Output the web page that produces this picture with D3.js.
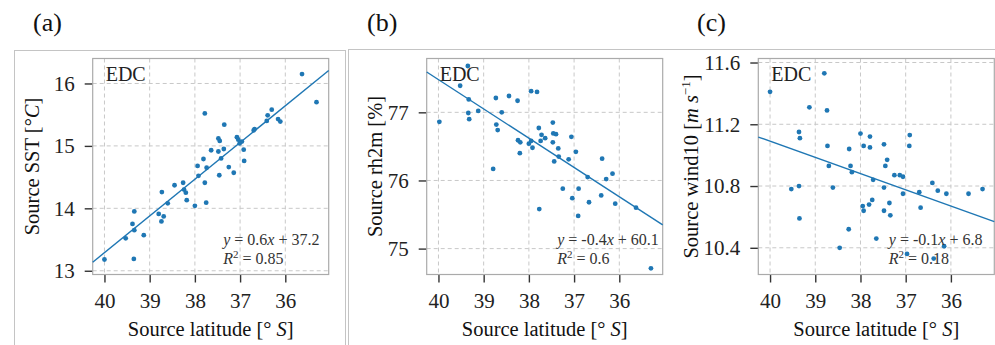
<!DOCTYPE html>
<html>
<head>
<meta charset="utf-8">
<script src="https://cdn.jsdelivr.net/npm/d3@7"></script>
<style>
  body { margin: 0; background: #fff; }
  svg { display: block; }
  svg text { font-family: "Liberation Serif", "Times New Roman", "DejaVu Serif", serif; }
</style>
</head>
<body>
<div id="chart"></div>
<script>
// Source latitude (deg S) and values
const latA = [40.0, 39.53, 39.34, 39.38, 39.34, 39.35, 39.13, 38.80, 38.69, 38.74, 38.73, 38.60, 38.45, 38.26, 38.24,
    38.20, 38.18, 38.00, 37.94, 37.92, 37.81, 37.78, 37.75, 37.74, 37.78, 37.64, 37.48, 37.45, 37.48, 37.46, 37.42,
    37.36, 37.35, 37.25, 37.14, 37.07, 37.04, 37.01, 36.96, 36.92, 36.91, 36.70, 36.68, 36.41, 36.39, 36.30, 36.16,
    36.11, 35.63, 35.31];
const sstA = [13.18, 13.52, 13.95, 13.75, 13.65, 13.19, 13.57, 13.91, 13.87, 13.79, 14.26, 14.08, 14.37, 14.41, 14.30,
    14.25, 14.13, 14.04, 14.68, 14.52, 14.79, 14.41, 14.09, 14.65, 15.52, 14.93, 15.12, 15.08, 14.91, 14.53, 14.80,
    14.95, 15.34, 14.66, 14.57, 15.14, 15.10, 15.04, 15.07, 14.94, 14.76, 15.25, 15.27, 15.40, 15.49, 15.58, 15.43,
    15.39, 16.15, 15.70];

const latB = [39.98, 39.52, 39.35, 39.33, 39.34, 39.32, 39.12, 38.79, 38.73, 38.72, 38.69, 38.60, 38.44, 38.25, 38.24,
    38.19, 38.20, 37.95, 37.82, 38.00, 37.95, 37.92, 37.78, 37.77, 37.74, 37.72, 37.64, 37.47, 37.46, 37.40, 37.47,
    37.35, 37.34, 37.44, 37.25, 37.12, 37.06, 37.04, 36.96, 36.90, 36.91, 36.70, 36.67, 36.40, 36.38, 36.29, 36.15,
    36.09, 35.63, 35.30];
const rhB = [76.86, 77.39, 77.68, 77.19, 76.99, 76.90, 77.02, 76.17, 77.21, 76.82, 76.74, 77.00, 77.24, 77.17, 76.59,
    76.56, 76.40, 77.31, 77.30, 76.54, 76.58, 76.48, 76.77, 75.58, 76.58, 76.67, 76.62, 76.85, 76.69, 76.68, 76.56,
    76.47, 76.35, 76.28, 75.88, 76.31, 76.64, 75.74, 76.42, 75.88, 75.48, 76.05, 75.68, 75.78, 76.32, 76.02, 76.10,
    75.66, 75.60, 74.71];

const latC = [40.0, 39.53, 39.36, 39.34, 39.36, 39.35, 39.13, 38.80, 38.74, 38.73, 38.70, 38.61, 38.46, 38.25, 38.22,
    38.19, 38.26, 38.00, 37.93, 37.95, 37.93, 37.79, 37.79, 37.81, 37.74, 37.72, 37.65, 37.48, 37.45, 37.41, 37.48,
    37.48, 37.36, 37.34, 37.25, 37.13, 37.06, 37.06, 36.91, 36.92, 36.97, 36.70, 36.67, 36.41, 36.29, 36.10, 36.38,
    36.15, 35.61, 35.30];
const windC = [11.41, 10.78, 11.15, 11.11, 10.80, 10.59, 11.31, 11.53, 11.29, 11.06, 10.93, 10.79, 10.40, 11.04, 10.93,
    10.89, 10.52, 11.14, 11.06, 10.67, 10.64, 11.12, 11.05, 10.68, 10.71, 10.84, 10.46, 11.07, 10.93, 10.97, 10.79,
    10.64, 10.69, 10.61, 10.87, 10.87, 10.86, 10.75, 11.13, 11.06, 10.36, 10.76, 10.66, 10.82, 10.77, 10.75, 10.33,
    10.41, 10.75, 10.78];

// Regression lines as drawn (value = slope * latitude + intercept)
const fitSlopes = [-0.588, 0.430, 0.105];
const fitIntercepts = [36.81, 60.28, 6.89];

const latTicks = [40, 39, 38, 37, 36];
const sstTicks = [13, 14, 15, 16];
const rhTicks = [75, 76, 77];
const windTicks = [10.4, 10.8, 11.2, 11.6];

const panelLetters = ['(a)', '(b)', '(c)'];
const equations = [['0.6', '37.2', '0.85'], ['-0.4', '60.1', '0.6'], ['-0.1', '6.8', '0.18']];

const serif = '"Liberation Serif", "Times New Roman", "DejaVu Serif", serif';
const blue = '#1f77b4';
const W = 995, H = 345;

const svg = d3.select('#chart').append('svg')
    .attr('width', W)
    .attr('height', H)
    .attr('font-family', serif);

// outer frames
svg.append('rect').attr('x', 14.5).attr('y', 50.5).attr('width', 331).attr('height', 320)
    .attr('fill', 'none').attr('stroke', '#c4c4c4');
svg.append('rect').attr('x', 348.5).attr('y', 49.5).attr('width', 700).attr('height', 320)
    .attr('fill', 'none').attr('stroke', '#c4c4c4');

const panels = [
    { left: 92.7, lat: latA, val: sstA, ticks: sstTicks, domain: [12.94, 16.40], fmt: d3.format('d'),
      letterX: 33, ylabX: 32, ylab: 'sst' },
    { left: 426.7, lat: latB, val: rhB, ticks: rhTicks, domain: [74.62, 77.79], fmt: d3.format('d'),
      letterX: 367, ylabX: 375, ylab: 'rh' },
    { left: 758.3, lat: latC, val: windC, ticks: windTicks, domain: [10.227, 11.626], fmt: d3.format('.1f'),
      letterX: 697, ylabX: 691, ylab: 'wind' }
];

const plotTop = 58.5, plotH = 216, plotW = 236;

panels.forEach((p, i) => {
    const g = svg.append('g').attr('transform', `translate(${p.left},${plotTop})`);

    const x = d3.scaleLinear().domain([40.26, 35.04]).range([0, plotW]);
    const y = d3.scaleLinear().domain(p.domain).range([plotH, 0]);

    // grid
    g.append('g').selectAll('line')
        .data(latTicks).join('line')
        .attr('x1', d => x(d)).attr('x2', d => x(d))
        .attr('y1', 0).attr('y2', plotH)
        .attr('stroke', '#c8c8c8').attr('stroke-width', 1).attr('stroke-dasharray', '4,3');
    g.append('g').selectAll('line')
        .data(p.ticks).join('line')
        .attr('x1', 0).attr('x2', plotW)
        .attr('y1', d => y(d)).attr('y2', d => y(d))
        .attr('stroke', '#c8c8c8').attr('stroke-width', 1).attr('stroke-dasharray', '4,3');

    // axes
    const xa = g.append('g').attr('transform', `translate(0,${plotH})`)
        .call(d3.axisBottom(x).tickValues(latTicks).tickSize(8).tickPadding(11).tickFormat(d3.format('d')));
    const ya = g.append('g')
        .call(d3.axisLeft(y).tickValues(p.ticks).tickSize(8).tickPadding(10).tickFormat(p.fmt));
    [xa, ya].forEach(a => {
        a.attr('font-family', serif).attr('font-size', 21);
        a.select('.domain').remove();
        a.selectAll('line').attr('stroke', '#333').attr('stroke-width', 1.4);
        a.selectAll('text').attr('fill', '#222');
    });

    // box
    g.append('rect').attr('width', plotW).attr('height', plotH)
        .attr('fill', 'none').attr('stroke', '#aaa').attr('stroke-width', 1.2);

    // regression line across the axes
    const xd = x.domain();
    g.append('line')
        .attr('x1', x(xd[0])).attr('y1', y(fitSlopes[i] * xd[0] + fitIntercepts[i]))
        .attr('x2', x(xd[1])).attr('y2', y(fitSlopes[i] * xd[1] + fitIntercepts[i]))
        .attr('stroke', blue).attr('stroke-width', 1.4);

    // points
    g.append('g').selectAll('circle')
        .data(p.lat.map((d, k) => [d, p.val[k]]))
        .join('circle')
        .attr('cx', d => x(d[0]))
        .attr('cy', d => y(d[1]))
        .attr('r', 2.4)
        .attr('fill', blue);

    // EDC label
    g.append('text').attr('x', 13).attr('y', 22)
        .attr('font-size', 20).attr('fill', '#222').text('EDC');

    // equation
    const eq = equations[i];
    const t1 = g.append('text').attr('x', 130.5).attr('y', 186.5).attr('font-size', 16).attr('fill', '#333');
    t1.append('tspan').attr('font-style', 'italic').text('y');
    t1.append('tspan').text(' = ' + eq[0]);
    t1.append('tspan').attr('font-style', 'italic').text('x');
    t1.append('tspan').text(' + ' + eq[1]);
    const t2 = g.append('text').attr('x', 130.5).attr('y', 205).attr('font-size', 16).attr('fill', '#333');
    t2.append('tspan').attr('font-style', 'italic').text('R');
    t2.append('tspan').attr('font-size', 11).attr('dy', -6).text('2');
    t2.append('tspan').attr('dy', 6).text(' = ' + eq[2]);

    // x label
    const xl = svg.append('text').attr('x', p.left + plotW / 2).attr('y', 336)
        .attr('text-anchor', 'middle').attr('font-size', 20.5).attr('fill', '#111');
    xl.append('tspan').text('Source latitude [° ');
    xl.append('tspan').attr('font-style', 'italic').text('S');
    xl.append('tspan').text(']');

    // y label
    const yl = svg.append('text')
        .attr('transform', `translate(${p.ylabX + 7},${plotTop + plotH / 2}) rotate(-90)`)
        .attr('text-anchor', 'middle').attr('font-size', 20.5).attr('fill', '#111');
    if (p.ylab === 'sst') {
        yl.append('tspan').text('Source SST [°');
        yl.append('tspan').attr('font-style', 'italic').text('C');
        yl.append('tspan').text(']');
    } else if (p.ylab === 'rh') {
        yl.text('Source rh2m [%]');
    } else {
        yl.append('tspan').text('Source wind10 [');
        yl.append('tspan').attr('font-style', 'italic').text('m s');
        yl.append('tspan').attr('font-size', 13).attr('dy', -8).text('−1');
        yl.append('tspan').attr('dy', 8).text(']');
    }

    // panel letter
    svg.append('text').attr('x', p.letterX).attr('y', 31)
        .attr('font-size', 26).attr('fill', '#111').text(panelLetters[i]);
});
</script>
</body>
</html>
